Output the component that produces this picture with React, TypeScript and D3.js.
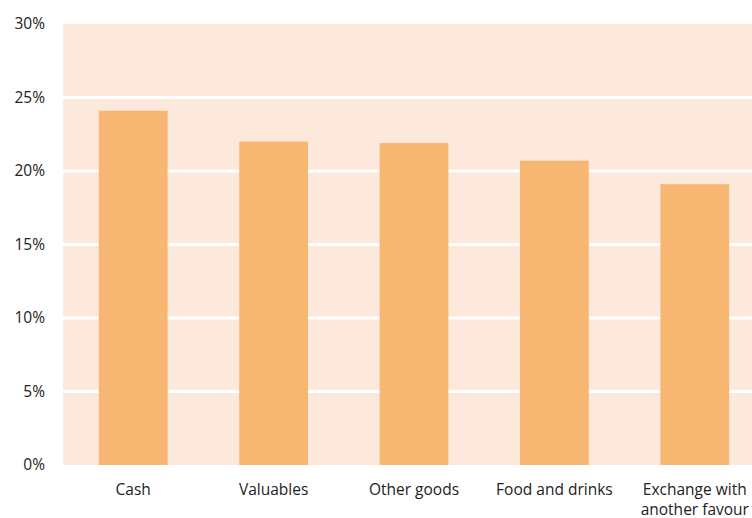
import React from "react";
import * as d3 from "d3";

const categories = ["Cash", "Valuables", "Other goods", "Food and drinks", "Exchange with\nanother favour"];
const values = [24.1, 22.0, 21.9, 20.7, 19.1];
const yTicks = [0, 5, 10, 15, 20, 25, 30];

const W = 752;
const H = 518;
const margin = { left: 63, top: 24, bottom: 53 };
const plotRight = 765;

export default function App() {
  const x = d3
    .scaleBand<string>()
    .domain(categories)
    .range([margin.left, plotRight])
    .paddingInner(0.51)
    .paddingOuter(0.255);
  const y = d3.scaleLinear().domain([0, 30]).range([H - margin.bottom, margin.top]);
  const font = "'Open Sans', 'Noto Sans', sans-serif";
  return (
    <svg
      width={W}
      height={H}
      style={{ position: "absolute", left: 0, top: 0, display: "block" }}
    >
      <rect x={0} y={0} width={W} height={H} fill="#ffffff" />
      <rect
        x={margin.left}
        y={y(30)}
        width={plotRight - margin.left}
        height={y(0) - y(30)}
        fill="#FDE9DB"
      />
      {yTicks.slice(1, -1).map((t) => (
        <line
          key={t}
          x1={margin.left}
          x2={plotRight}
          y1={y(t)}
          y2={y(t)}
          stroke="#ffffff"
          strokeWidth={3}
        />
      ))}
      {categories.map((c, i) => (
        <rect
          key={c}
          x={x(c)}
          y={y(values[i])}
          width={x.bandwidth()}
          height={y(0) - y(values[i])}
          fill="#F8B673"
        />
      ))}
      {yTicks.map((t) => (
        <text
          key={t}
          x={45}
          y={y(t)}
          dy="0.35em"
          textAnchor="end"
          fontFamily={font}
          fontSize={15.5}
          fill="#222"
        >
          {t}%
        </text>
      ))}
      {categories.map((c) => {
        const cx = (x(c) as number) + x.bandwidth() / 2;
        return (
          <text
            key={c}
            textAnchor="middle"
            fontFamily={font}
            fontSize={15.5}
            fill="#222"
          >
            {c.split("\n").map((line, j) => (
              <tspan key={j} x={cx} y={495 + j * 20}>
                {line}
              </tspan>
            ))}
          </text>
        );
      })}
    </svg>
  );
}
